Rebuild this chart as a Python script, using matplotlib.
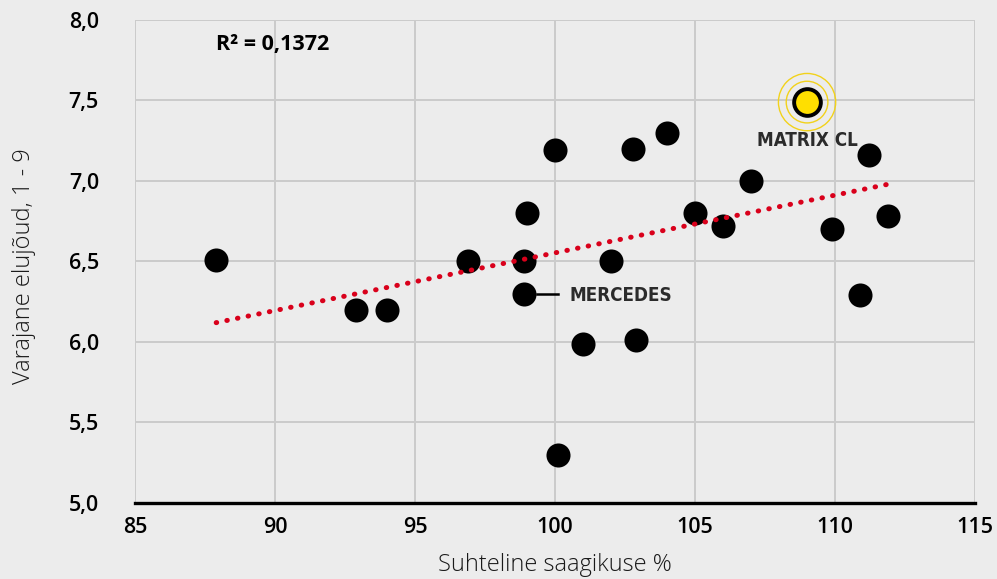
import numpy as np
import matplotlib
matplotlib.use('Agg')
import matplotlib.pyplot as plt
from matplotlib import font_manager

# relative yield (%) vs early vigour (1-9)
yield_pct = [87.9, 92.9, 94.0, 96.9, 98.9, 98.9, 99.0, 100.0, 100.1, 101.0, 102.0,
             102.8, 102.9, 104.0, 105.0, 106.0, 107.0, 109.9, 111.2, 110.9, 111.9]
vigour = [6.51, 6.20, 6.20, 6.50, 6.50, 6.30, 6.80, 7.19, 5.30, 5.99, 6.50,
          7.20, 6.01, 7.30, 6.80, 6.72, 7.00, 6.70, 7.16, 6.29, 6.78]
highlight_x = 109.0
highlight_y = 7.49
trend_x = [87.9, 111.9]
trend_y = [6.12, 6.98]
r2_text = 'R² = 0,1372'

x_ticks = [85, 90, 95, 100, 105, 110, 115]
y_ticks = [5.0, 5.5, 6.0, 6.5, 7.0, 7.5, 8.0]

bg = '#ececec'
plt.rcParams['font.family'] = ['Open Sans', 'DejaVu Sans']

names = {f.name for f in font_manager.fontManager.ttflist}
lab_font = [n for n in ['Liberation Sans Narrow', 'DejaVu Sans Condensed'] if n in names]
lab_font += ['DejaVu Sans']

fig = plt.figure(figsize=(9.97, 5.79), dpi=100, facecolor=bg)
ax = fig.add_axes([0.1354, 0.1313, 0.8426, 0.8342])
ax.set_facecolor(bg)

xl = np.linspace(trend_x[0], trend_x[1], 100)
yl = np.interp(xl, trend_x, trend_y)
ax.plot(xl, yl, color='#d9001b', linewidth=3.6,
        linestyle=(0, (0.1, 2.07)), dash_capstyle='round', zorder=4)

ax.scatter(yield_pct, vigour, s=300, color='black', zorder=3, linewidths=0)

# highlighted variety with rings
ax.scatter([highlight_x], [highlight_y], s=1700, facecolors='none',
           edgecolors='#f2d21b', linewidths=1.0, zorder=5)
ax.scatter([highlight_x], [highlight_y], s=900, facecolors='none',
           edgecolors='#f2d21b', linewidths=1.0, zorder=5)
ax.scatter([highlight_x], [highlight_y], s=370, color='#ffdf00',
           edgecolors='black', linewidths=2.8, zorder=6)

ax.text(highlight_x, 7.25, 'MATRIX CL', ha='center', va='center', fontsize=13.5,
        fontweight='bold', fontstretch='condensed', color='#2b2b2b',
        family=lab_font, zorder=6)
ax.plot([99.35, 100.1], [6.30, 6.30], color='black', linewidth=1.8, zorder=3)
ax.text(100.5, 6.29, 'MERCEDES', ha='left', va='center', fontsize=13.5,
        fontweight='bold', fontstretch='condensed', color='#2b2b2b',
        family=lab_font, zorder=6)

ax.text(87.9, 7.85, r2_text, ha='left', va='center', fontsize=15.5,
        fontweight='bold', color='black')

ax.set_xlim(85, 115)
ax.set_ylim(5, 8)
ax.set_xticks(x_ticks)
ax.set_yticks(y_ticks)
ax.set_xticklabels([str(v) for v in x_ticks])
ax.set_yticklabels([f'{v:.1f}'.replace('.', ',') for v in y_ticks])
ax.tick_params(length=0, labelsize=15.5, colors='black')
ax.tick_params(axis='x', pad=10)
ax.tick_params(axis='y', pad=26)
for lbl in ax.get_xticklabels() + ax.get_yticklabels():
    lbl.set_fontweight('semibold')

ax.grid(True, color='#cbcbcb', linewidth=1.4)
ax.set_axisbelow(True)
for side in ['left', 'right', 'top']:
    ax.spines[side].set_visible(False)
ax.spines['bottom'].set_color('black')
ax.spines['bottom'].set_linewidth(2.4)
ax.spines['bottom'].set_zorder(7)

ax.set_xlabel('Suhteline saagikuse %', fontsize=17, fontweight='light',
              labelpad=11, color='#1a1a1a')
ax.set_ylabel('Varajane elujõud, 1 - 9', fontsize=17, fontweight='light',
              labelpad=30, color='#1a1a1a')
ax.yaxis.set_label_coords(-0.118, 0.49)

fig.savefig('out.png', dpi=100, facecolor=bg)
